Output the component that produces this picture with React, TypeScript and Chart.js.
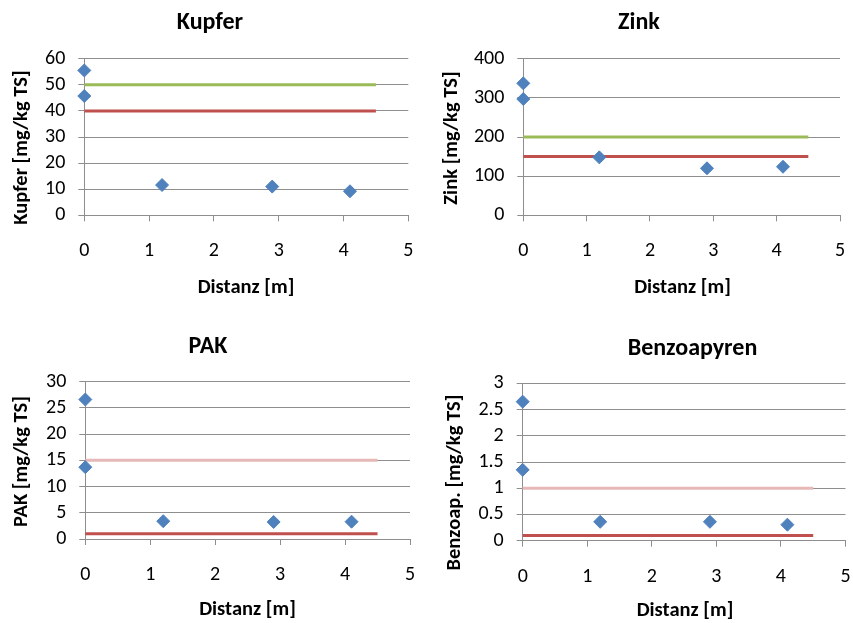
import React, { useEffect, useRef } from "react";
import { Chart, registerables } from "chart.js";

Chart.register(...registerables);

// ---- data ----
const distances = [0, 0, 1.2, 2.9, 4.1];
const kupferValues = [55.5, 45.7, 11.6, 11.0, 9.2];
const zinkValues = [337, 297, 148, 120, 124];
const pakValues = [26.6, 13.7, 3.4, 3.25, 3.3];
const benzoValues = [2.65, 1.35, 0.36, 0.36, 0.305];
const limitX = [0, 4.5];
const kupferLimits = [50, 40];
const zinkLimits = [200, 150];
const pakLimits = [15, 1];
const benzoLimits = [1, 0.1];
const xTicks = [0, 1, 2, 3, 4, 5];

const FONT = "Carlito, Lato, 'Open Sans', sans-serif";
const GRID = "#8e8e8e";
const BLUE = "#4F81BD";
const GREEN = "#9BBB59";
const RED = "#C0504D";
const PINK = "#E6B9B8";

type Spec = {
  x: number; y: number; w: number; h: number;
  area: { left: number; right: number; top: number; bottom: number };
  title: string; titlePos: [number, number];
  xTitle: string; xTitlePos: [number, number];
  yTitle: string; yTitlePos: [number, number];
  values: number[]; limits: number[]; limitColors: string[];
  yMax: number; yStep: number;
};

const specs: Spec[] = [
  {
    x: 0, y: 0, w: 426, h: 311,
    area: { left: 84.3, right: 408.3, top: 58.7, bottom: 215.3 },
    title: "Kupfer", titlePos: [210, 29],
    xTitle: "Distanz [m]", xTitlePos: [246, 293],
    yTitle: "Kupfer [mg/kg TS]", yTitlePos: [22, 147.5],
    values: kupferValues, limits: kupferLimits, limitColors: [GREEN, RED],
    yMax: 60, yStep: 10,
  },
  {
    x: 426, y: 0, w: 427, h: 311,
    area: { left: 97.3, right: 414, top: 58.7, bottom: 215.3 },
    title: "Zink", titlePos: [213, 29],
    xTitle: "Distanz [m]", xTitlePos: [256.5, 293],
    yTitle: "Zink [mg/kg TS]", yTitlePos: [26, 138],
    values: zinkValues, limits: zinkLimits, limitColors: [GREEN, RED],
    yMax: 400, yStep: 100,
  },
  {
    x: 0, y: 311, w: 426, h: 312,
    area: { left: 85.3, right: 410, top: 70.7, bottom: 228 },
    title: "PAK", titlePos: [208, 42],
    xTitle: "Distanz [m]", xTitlePos: [247.5, 304],
    yTitle: "PAK [mg/kg TS]", yTitlePos: [22, 150.5],
    values: pakValues, limits: pakLimits, limitColors: [PINK, RED],
    yMax: 30, yStep: 5,
  },
  {
    x: 426, y: 311, w: 427, h: 312,
    area: { left: 96.7, right: 420.7, top: 72.3, bottom: 229.7 },
    title: "Benzoapyren", titlePos: [266.5, 44],
    xTitle: "Distanz [m]", xTitlePos: [259, 305],
    yTitle: "Benzoap. [mg/kg TS]", yTitlePos: [29, 171.5],
    values: benzoValues, limits: benzoLimits, limitColors: [PINK, RED],
    yMax: 3, yStep: 0.5,
  },
];

function Panel({ spec }: { spec: Spec }) {
  const ref = useRef<HTMLCanvasElement>(null);
  useEffect(() => {
    const canvas = ref.current!;
    const textPlugin = {
      id: "panelTexts",
      afterDraw(chart: any) {
        const ctx = chart.ctx as CanvasRenderingContext2D;
        ctx.save();
        ctx.fillStyle = "#000";
        ctx.textAlign = "center";
        ctx.textBaseline = "alphabetic";
        ctx.font = `bold 24px ${FONT}`;
        ctx.fillText(spec.title, spec.titlePos[0], spec.titlePos[1]);
        ctx.font = `bold 20.5px ${FONT}`;
        ctx.fillText(spec.xTitle, spec.xTitlePos[0], spec.xTitlePos[1]);
        ctx.translate(spec.yTitlePos[0], spec.yTitlePos[1]);
        ctx.rotate(-Math.PI / 2);
        ctx.textBaseline = "middle";
        ctx.fillText(spec.yTitle, 0, 0);
        ctx.restore();
      },
    };
    const chart = new Chart(canvas, {
      type: "scatter",
      data: {
        datasets: [
          {
            data: distances.map((x, i) => ({ x, y: spec.values[i] })),
            pointStyle: "rectRot",
            pointRadius: 6.5,
            backgroundColor: BLUE,
            borderColor: BLUE,
            borderWidth: 1,
            showLine: false,
            clip: false,
          } as any,
          ...spec.limits.map((v, k) => ({
            data: limitX.map((x) => ({ x, y: v })),
            showLine: true,
            borderColor: spec.limitColors[k],
            backgroundColor: spec.limitColors[k],
            borderWidth: 3,
            pointRadius: 0,
            clip: false,
          })),
        ],
      },
      options: {
        responsive: false,
        animation: false,
        events: [],
        layout: {
          padding: {
            left: 0,
            top: spec.area.top,
            right: spec.w - spec.area.right,
            bottom: 0,
          },
        },
        plugins: {
          legend: { display: false },
          tooltip: { enabled: false },
          title: { display: false },
        },
        scales: {
          x: {
            type: "linear",
            min: 0,
            max: 5,
            afterBuildTicks: (s: any) => {
              s.ticks = xTicks.map((value) => ({ value }));
            },
            ticks: {
              padding: 18,
              autoSkip: false,
              maxRotation: 0,
              color: "#000",
              font: { family: FONT, size: 20 },
              callback: (v: any) => String(v),
            },
            grid: {
              drawOnChartArea: false,
              drawTicks: true,
              tickLength: 6,
              color: GRID,
            },
            border: { color: GRID },
            afterFit: (s: any) => {
              s.height = spec.h - spec.area.bottom;
              s.paddingLeft = 0;
              s.paddingRight = 0;
            },
          },
          y: {
            type: "linear",
            min: 0,
            max: spec.yMax,
            ticks: {
              stepSize: spec.yStep,
              autoSkip: false,
              padding: 13,
              color: "#000",
              font: { family: FONT, size: 20 },
              callback: (v: any) => String(v),
            },
            grid: { color: GRID, tickLength: 6 },
            border: { color: GRID },
            afterFit: (s: any) => {
              s.width = spec.area.left;
              s.paddingTop = 0;
              s.paddingBottom = 0;
            },
          },
        },
      } as any,
      plugins: [textPlugin],
    });
    return () => chart.destroy();
  }, [spec]);
  return (
    <canvas
      ref={ref}
      width={spec.w}
      height={spec.h}
      style={{
        position: "absolute",
        left: spec.x,
        top: spec.y,
        width: spec.w,
        height: spec.h,
      }}
    />
  );
}

export default function App() {
  return (
    <div
      style={{
        position: "fixed",
        left: 0,
        top: 0,
        width: 853,
        height: 623,
        background: "#fff",
        overflow: "hidden",
      }}
    >
      {specs.map((s, i) => (
        <Panel key={i} spec={s} />
      ))}
    </div>
  );
}
